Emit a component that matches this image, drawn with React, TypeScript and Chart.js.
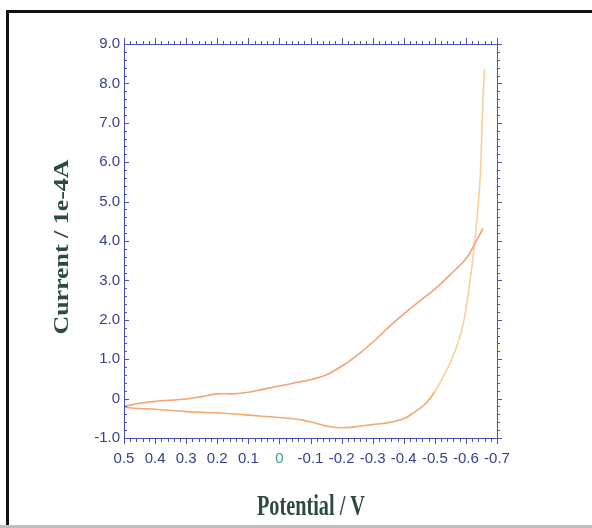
import React, { useEffect, useRef } from 'react';
import { Chart, registerables } from 'chart.js';

Chart.register(...registerables);

// Upper branch (potential V, current 1e-4 A)
const upperX = [0.5, 0.45, 0.4, 0.3, 0.25, 0.2, 0.15, 0.1, 0.05, 0.0, -0.05, -0.1, -0.15, -0.2, -0.25, -0.3, -0.35, -0.4, -0.45, -0.5, -0.55, -0.6, -0.63, -0.655];
const upperY = [-0.2, -0.12, -0.07, -0.01, 0.05, 0.12, 0.12, 0.16, 0.24, 0.32, 0.4, 0.48, 0.6, 0.82, 1.1, 1.43, 1.8, 2.15, 2.47, 2.78, 3.15, 3.55, 3.95, 4.32];

// Lower / return branch
const lowerX = [0.5, 0.45, 0.4, 0.3, 0.2, 0.1, 0.0, -0.07, -0.12, -0.16, -0.2, -0.25, -0.3, -0.35, -0.4, -0.43, -0.47, -0.5, -0.53, -0.56, -0.59, -0.61, -0.63, -0.645, -0.652, -0.656, -0.66];
const lowerY = [-0.22, -0.25, -0.27, -0.33, -0.36, -0.42, -0.48, -0.54, -0.63, -0.71, -0.74, -0.71, -0.66, -0.61, -0.51, -0.37, -0.13, 0.18, 0.6, 1.1, 1.85, 2.8, 4.1, 5.5, 6.9, 7.8, 8.35];

const xMin = -0.7;
const xMax = 0.5;
const yMin = -1;
const yMax = 9;

const xTitle = 'Potential / V';
const yTitle = 'Current / 1e-4A';

const AXIS_BLUE = '#4a52b3';
const LABEL_BLUE = '#363f8c';
const TITLE_GREEN = '#2d4a3f';
const TICK_FONT = '"Liberation Sans", Arial, sans-serif';

const fmt = (v: number) => {
  const r = Math.round(v * 10) / 10;
  if (Math.abs(r) < 1e-9) return '0';
  return r.toFixed(1);
};

const framePlugin = {
  id: 'frame',
  beforeDraw(chart: any) {
    const ctx = chart.ctx;
    ctx.save();
    ctx.fillStyle = '#ffffff';
    ctx.fillRect(0, 0, chart.width, chart.height);
    ctx.fillStyle = '#111111';
    ctx.fillRect(6, 10, 3, 516);
    ctx.fillRect(6, 10, chart.width - 6, 3);
    ctx.fillStyle = '#bdbdbd';
    ctx.fillRect(0, 525, chart.width, 3);
    ctx.restore();
  },
};

const axesPlugin = {
  id: 'axesTicks',
  afterDatasetsDraw(chart: any) {
    const ctx = chart.ctx;
    const xs = chart.scales.x;
    const ys = chart.scales.y;
    const { left, right, top, bottom } = chart.chartArea;
    ctx.save();
    ctx.strokeStyle = AXIS_BLUE;
    ctx.lineWidth = 1;
    ctx.beginPath();
    ctx.rect(Math.round(left) + 0.5, Math.round(top) + 0.5, Math.round(right - left), Math.round(bottom - top));
    ctx.stroke();
    ctx.beginPath();
    for (let i = -35; i <= 25; i++) {
      const v = i / 50;
      const px = Math.round(xs.getPixelForValue(v)) + 0.5;
      const major = i % 5 === 0;
      const lb = major ? 6 : 4;
      const lt = major ? 6 : 3;
      ctx.moveTo(px, bottom);
      ctx.lineTo(px, bottom + lb);
      ctx.moveTo(px, top);
      ctx.lineTo(px, top - lt);
    }
    for (let i = -5; i <= 45; i++) {
      const v = i / 5;
      const py = Math.round(ys.getPixelForValue(v)) + 0.5;
      const major = i % 5 === 0;
      const lr = major ? 5 : 3;
      ctx.moveTo(right, py);
      ctx.lineTo(right + lr, py);
      ctx.moveTo(left, py);
      ctx.lineTo(left + (major ? 5 : 3), py);
    }
    ctx.stroke();
    ctx.restore();
  },
};

const titlesPlugin = {
  id: 'stretchedTitles',
  afterDraw(chart: any) {
    const ctx = chart.ctx;
    ctx.save();
    ctx.fillStyle = TITLE_GREEN;
    ctx.textAlign = 'center';
    ctx.textBaseline = 'alphabetic';
    // x title
    ctx.font = 'bold 22px "Liberation Serif", "Times New Roman", serif';
    let w = ctx.measureText(xTitle).width;
    ctx.save();
    ctx.translate(311, 515);
    ctx.scale(108 / w, 1.38);
    ctx.fillText(xTitle, 0, 0);
    ctx.restore();
    // y title
    ctx.font = 'bold 20px "Liberation Serif", "Times New Roman", serif';
    w = ctx.measureText(yTitle).width;
    ctx.save();
    ctx.translate(68, 247);
    ctx.rotate(-Math.PI / 2);
    ctx.scale(175 / w, 1);
    ctx.fillText(yTitle, 0, 0);
    ctx.restore();
    ctx.restore();
  },
};

export default function App() {
  const canvasRef = useRef<HTMLCanvasElement | null>(null);

  useEffect(() => {
    if (!canvasRef.current) return;
    const upper = upperX.map((x, i) => ({ x, y: upperY[i] }));
    const lower = lowerX.map((x, i) => ({ x, y: lowerY[i] }));
    const chart = new Chart(canvasRef.current, {
      type: 'line',
      data: {
        datasets: [
          {
            label: 'upper',
            data: upper,
            borderColor: '#f4a277',
            borderWidth: 1.6,
            pointRadius: 0,
            tension: 0.35,
            fill: false,
          },
          {
            label: 'lower',
            data: lower,
            borderColor: '#f5a86f',
            borderWidth: 1.6,
            pointRadius: 0,
            tension: 0.35,
            fill: false,
            segment: {
              borderColor: (c: any) => (c.p1.parsed.y > 0.4 ? '#fccf9a' : '#f5a86f'),
            },
          },
        ],
      },
      options: {
        animation: false,
        responsive: false,
        maintainAspectRatio: false,
        layout: { padding: { top: 44, right: 95, left: 0, bottom: 0 } },
        plugins: {
          legend: { display: false },
          tooltip: { enabled: false },
        },
        scales: {
          x: {
            type: 'linear',
            min: xMin,
            max: xMax,
            reverse: true,
            grid: { display: false, drawTicks: false },
            border: { display: false },
            afterFit: (s: any) => {
              s.height = 90;
            },
            ticks: {
              stepSize: 0.1,
              padding: 12,
              autoSkip: false,
              maxRotation: 0,
              font: { family: TICK_FONT, size: 15 },
              color: (c: any) => (Math.abs(c.tick.value) < 1e-9 ? '#3aa08e' : LABEL_BLUE),
              callback: (v: any) => fmt(Number(v)),
            },
          },
          y: {
            type: 'linear',
            min: yMin,
            max: yMax,
            grid: { display: false, drawTicks: false },
            border: { display: false },
            afterFit: (s: any) => {
              s.width = 124;
            },
            ticks: {
              stepSize: 1,
              padding: 4,
              font: { family: TICK_FONT, size: 15 },
              color: LABEL_BLUE,
              callback: (v: any) => fmt(Number(v)),
            },
          },
        },
      },
      plugins: [framePlugin, axesPlugin, titlesPlugin],
    });
    return () => chart.destroy();
  }, []);

  return (
    <div style={{ position: 'absolute', left: 0, top: 0, width: 592, height: 528 }}>
      <canvas ref={canvasRef} width={592} height={528} style={{ display: 'block', width: 592, height: 528 }} />
    </div>
  );
}
